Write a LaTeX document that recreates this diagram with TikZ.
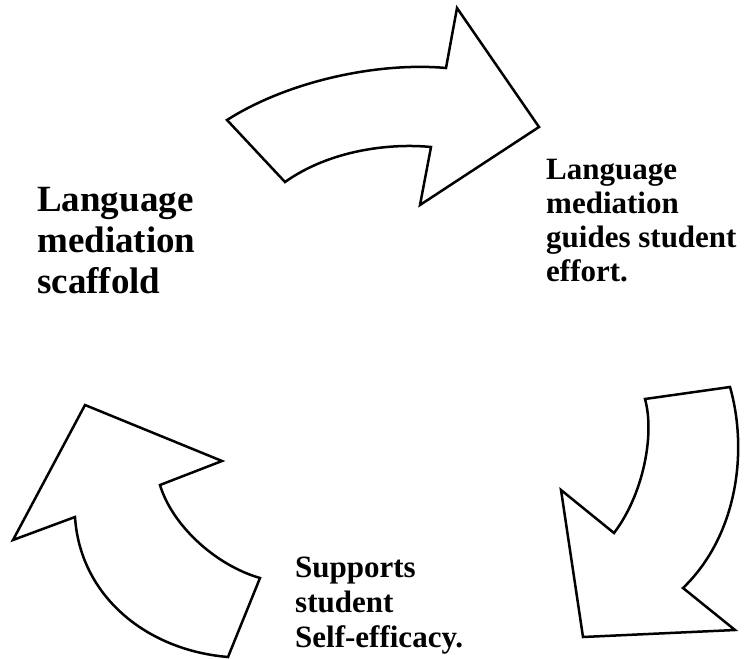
\documentclass[tikz,border=0pt]{standalone}
\usepackage{fontspec}
\setmainfont{Liberation Serif}
\tikzset{
  bigarrow/.style={draw=black,line width=2.5pt,line join=miter,fill=white},
  caption/.style={inner sep=0pt,align=left,anchor=north west,font=\bfseries\fontsize{31}{34}\selectfont}
}
\begin{document}
\begin{tikzpicture}[x=1pt,y=-1pt]
 \useasboundingbox (0,0) rectangle (746,660);
 % three curved arrows, drawn as outlines
 \draw[bigarrow] (227,120) -- (285,182) .. controls (330,150) and (390,143) .. (431,147) -- (420,205) -- (539,127) -- (457,8) -- (446,68) .. controls (380,62) and (290,80) .. (227,120) -- cycle;
 \draw[bigarrow] (645,399) -- (730,387) .. controls (748,450) and (738,535) .. (683,588) -- (735,630) -- (583,637) -- (561,490) -- (614,533) .. controls (643,495) and (655,435) .. (645,399) -- cycle;
 \draw[bigarrow] (85,405) -- (222,461) -- (160,485) .. controls (172,525) and (215,565) .. (260,578) -- (228,657) .. controls (145,650) and (80,595) .. (75,517) -- (13,540) -- cycle;
 % labels
 \node[caption,font=\bfseries\fontsize{37}{41}\selectfont] (scaffold) at (37,187) {Language\\mediation\\scaffold};
 \node[caption] (effort) at (546,159) {Language\\mediation\\guides student\\effort.};
 \node[caption,font=\bfseries\fontsize{31}{35}\selectfont] (efficacy) at (295,557) {Supports\\student\\Self-efficacy.};
\end{tikzpicture}
\end{document}
